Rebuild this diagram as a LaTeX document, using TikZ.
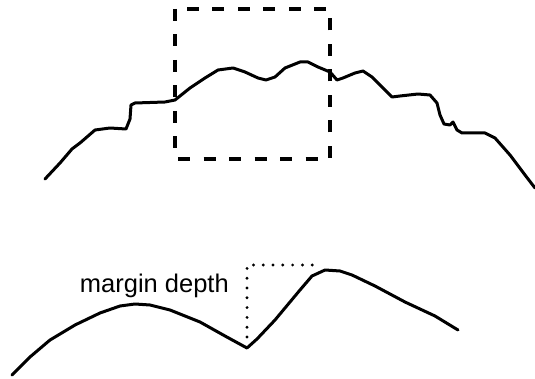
\documentclass[tikz,border=0pt]{standalone}
\usepackage{fontspec}
\setmainfont{Liberation Sans}
\usetikzlibrary{positioning}

\begin{document}
\begin{tikzpicture}[x=1pt, y=-1pt,
          profile/.style={line width=3pt, line join=round, line cap=round},
          zoombox/.style={line width=3.4pt, dash pattern=on 12pt off 13.5pt},
          depthmark/.style={line width=3.2pt, line cap=round, dash pattern=on 0pt off 9.8pt},
          lbl/.style={inner sep=0pt, font=\fontsize{25.5}{28}\selectfont}]
        \useasboundingbox (0,0) rectangle (535,379);
        % rough surface, full view
        \draw[profile] (45,179) -- (60,163) -- (72,149) -- (80,143) -- (95,130) -- (110,128) -- (126,129)
          -- (130,119) -- (131,105) -- (135,103) -- (165,102) -- (175,100) -- (190,88) -- (205,78)
          -- (218,70) -- (233,68) -- (245,72) -- (258,78) -- (266,80) -- (275,77) -- (285,68)
          -- (300,62) -- (308,62) -- (318,67) -- (330,72) -- (337,80) -- (343,78) -- (355,73)
          -- (363,71) -- (372,77) -- (385,90) -- (392,97) -- (400,96) -- (418,94) -- (430,95)
          -- (437,103) -- (440,115) -- (444,124) -- (450,125) -- (453,122) -- (457,130) -- (462,133)
          -- (485,133) -- (495,138) -- (510,155) -- (525,175) -- (535,188);
        % zoomed region
        \draw[zoombox] (175,9) rectangle (330,159);
        % zoomed margin
        \coordinate (pit) at (247,348);
        \coordinate (crest) at (315,265);
        \draw[profile] (12,375) -- (30,357) -- (50,340) -- (75,325) -- (100,313) -- (120,306) -- (135,304)
          -- (150,305) -- (170,310) -- (200,322) -- (225,336) -- (pit) -- (257,339) -- (275,320)
          -- (300,290) -- (312,276) -- (325,270) -- (340,271) -- (352,275) -- (375,286)
          -- (405,302) -- (435,316) -- (458,330);
        \draw[depthmark] (pit |- 0,337) -- (pit |- crest) -- (crest);
        \node[lbl, anchor=base east] (depth) at (229,292) {margin depth};
      \end{tikzpicture}
\end{document}
